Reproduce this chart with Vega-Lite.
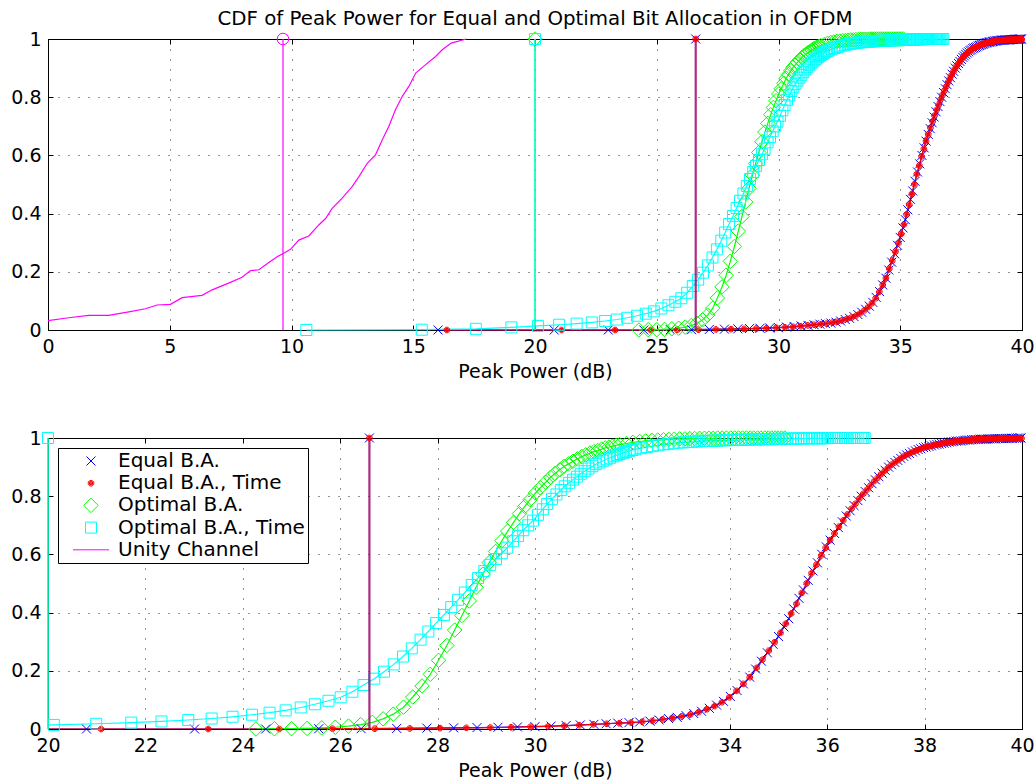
{
"$schema": "https://vega.github.io/schema/vega-lite/v6.json",
"background": "white",
"padding": {"left": 10, "top": 8, "right": 0, "bottom": 0},
"config": {
 "font": "DejaVu Sans",
 "view": {"stroke": "#000000", "strokeWidth": 1},
 "axis": {"labelFont": "DejaVu Sans", "labelFontSize": 19, "labelColor": "#000000", "titleFont": "DejaVu Sans", "titleFontSize": 19, "titleFontWeight": "normal", "titleColor": "#000000", "domainColor": "#000000", "domainWidth": 1, "tickColor": "#000000", "tickSize": -5, "tickWidth": 1, "labelPadding": 12, "labelFlush": false, "labelOverlap": false, "labelBound": false, "grid": true, "gridColor": "#000000", "gridDash": [1, 9], "gridWidth": 1, "gridOpacity": 0.85, "titlePadding": 6},
 "title": {"font": "DejaVu Sans", "fontSize": 19.8, "fontWeight": "normal", "color": "#000000"}
},
"datasets": {
 "stems": [
  {"s":"U","x":9.65},{"s":"E","x":26.6},{"s":"ET","x":26.6},{"s":"O","x":20},{"s":"OT","x":20}
 ],
 "curves": [
  {"s":"E","x":16.02,"y":0},{"s":"E","x":20.79,"y":0},{"s":"E","x":23.01,"y":0},{"s":"E","x":24.47,"y":0},{"s":"E","x":25.56,"y":0.001},{"s":"E","x":26.43,"y":0.001},{"s":"E","x":27.16,"y":0.002},{"s":"E","x":27.78,"y":0.003},{"s":"E","x":28.33,"y":0.004},{"s":"E","x":28.81,"y":0.005},{"s":"E","x":29.24,"y":0.006},{"s":"E","x":29.64,"y":0.007},{"s":"E","x":30.0,"y":0.008},{"s":"E","x":30.33,"y":0.01},{"s":"E","x":30.64,"y":0.012},{"s":"E","x":30.93,"y":0.014},{"s":"E","x":31.21,"y":0.016},{"s":"E","x":31.46,"y":0.018},{"s":"E","x":31.7,"y":0.02},{"s":"E","x":31.93,"y":0.022},{"s":"E","x":32.15,"y":0.024},{"s":"E","x":32.36,"y":0.027},{"s":"E","x":32.55,"y":0.031},{"s":"E","x":32.74,"y":0.036},{"s":"E","x":32.92,"y":0.04},{"s":"E","x":33.1,"y":0.046},{"s":"E","x":33.26,"y":0.053},{"s":"E","x":33.42,"y":0.061},{"s":"E","x":33.58,"y":0.071},{"s":"E","x":33.73,"y":0.082},{"s":"E","x":33.87,"y":0.095},{"s":"E","x":34.01,"y":0.112},{"s":"E","x":34.15,"y":0.132},{"s":"E","x":34.28,"y":0.155},{"s":"E","x":34.41,"y":0.178},{"s":"E","x":34.53,"y":0.206},{"s":"E","x":34.65,"y":0.233},{"s":"E","x":34.77,"y":0.262},{"s":"E","x":34.89,"y":0.291},{"s":"E","x":35.0,"y":0.318},{"s":"E","x":35.11,"y":0.351},{"s":"E","x":35.21,"y":0.379},{"s":"E","x":35.31,"y":0.413},{"s":"E","x":35.42,"y":0.449},{"s":"E","x":35.51,"y":0.478},{"s":"E","x":35.61,"y":0.511},{"s":"E","x":35.71,"y":0.543},{"s":"E","x":35.8,"y":0.571},{"s":"E","x":35.89,"y":0.6},{"s":"E","x":35.98,"y":0.626},{"s":"E","x":36.06,"y":0.649},{"s":"E","x":36.15,"y":0.672},{"s":"E","x":36.23,"y":0.692},{"s":"E","x":36.31,"y":0.712},{"s":"E","x":36.39,"y":0.732},{"s":"E","x":36.47,"y":0.75},{"s":"E","x":36.55,"y":0.768},{"s":"E","x":36.63,"y":0.785},{"s":"E","x":36.7,"y":0.8},{"s":"E","x":36.78,"y":0.816},{"s":"E","x":36.85,"y":0.829},{"s":"E","x":36.92,"y":0.843},{"s":"E","x":36.99,"y":0.856},{"s":"E","x":37.06,"y":0.867},{"s":"E","x":37.13,"y":0.879},{"s":"E","x":37.19,"y":0.889},{"s":"E","x":37.26,"y":0.9},{"s":"E","x":37.32,"y":0.908},{"s":"E","x":37.39,"y":0.916},{"s":"E","x":37.45,"y":0.923},{"s":"E","x":37.51,"y":0.93},{"s":"E","x":37.57,"y":0.937},{"s":"E","x":37.63,"y":0.942},{"s":"E","x":37.69,"y":0.947},{"s":"E","x":37.75,"y":0.952},{"s":"E","x":37.81,"y":0.956},{"s":"E","x":37.87,"y":0.96},{"s":"E","x":37.92,"y":0.963},{"s":"E","x":37.98,"y":0.967},{"s":"E","x":38.03,"y":0.969},{"s":"E","x":38.09,"y":0.971},{"s":"E","x":38.14,"y":0.973},{"s":"E","x":38.2,"y":0.976},{"s":"E","x":38.25,"y":0.978},{"s":"E","x":38.3,"y":0.979},{"s":"E","x":38.35,"y":0.981},{"s":"E","x":38.4,"y":0.982},{"s":"E","x":38.45,"y":0.984},{"s":"E","x":38.5,"y":0.986},{"s":"E","x":38.55,"y":0.987},{"s":"E","x":38.6,"y":0.988},{"s":"E","x":38.65,"y":0.989},{"s":"E","x":38.69,"y":0.99},{"s":"E","x":38.74,"y":0.99},{"s":"E","x":38.79,"y":0.991},{"s":"E","x":38.83,"y":0.992},{"s":"E","x":38.88,"y":0.993},{"s":"E","x":38.92,"y":0.993},{"s":"E","x":38.97,"y":0.994},{"s":"E","x":39.01,"y":0.995},{"s":"E","x":39.05,"y":0.995},{"s":"E","x":39.1,"y":0.995},{"s":"E","x":39.14,"y":0.996},{"s":"E","x":39.18,"y":0.996},{"s":"E","x":39.22,"y":0.996},{"s":"E","x":39.26,"y":0.996},{"s":"E","x":39.3,"y":0.997},{"s":"E","x":39.34,"y":0.997},{"s":"E","x":39.39,"y":0.997},{"s":"E","x":39.43,"y":0.997},{"s":"E","x":39.46,"y":0.997},{"s":"E","x":39.5,"y":0.998},{"s":"E","x":39.54,"y":0.998},{"s":"E","x":39.58,"y":0.998},{"s":"E","x":39.62,"y":0.998},{"s":"E","x":39.66,"y":0.998},{"s":"E","x":39.69,"y":0.999},{"s":"E","x":39.73,"y":0.999},{"s":"E","x":39.77,"y":0.999},{"s":"E","x":39.8,"y":0.999},{"s":"E","x":39.84,"y":0.999},{"s":"E","x":39.88,"y":0.999},{"s":"E","x":39.91,"y":1},{"s":"E","x":39.95,"y":1},{"s":"E","x":39.98,"y":1},
  {"s":"ET","x":16.38,"y":0},{"s":"ET","x":21.09,"y":0},{"s":"ET","x":23.29,"y":0},{"s":"ET","x":24.75,"y":0},{"s":"ET","x":25.84,"y":0.001},{"s":"ET","x":26.71,"y":0.001},{"s":"ET","x":27.43,"y":0.002},{"s":"ET","x":28.05,"y":0.003},{"s":"ET","x":28.59,"y":0.004},{"s":"ET","x":29.08,"y":0.005},{"s":"ET","x":29.51,"y":0.006},{"s":"ET","x":29.91,"y":0.008},{"s":"ET","x":30.27,"y":0.009},{"s":"ET","x":30.6,"y":0.011},{"s":"ET","x":30.91,"y":0.013},{"s":"ET","x":31.2,"y":0.016},{"s":"ET","x":31.47,"y":0.018},{"s":"ET","x":31.73,"y":0.02},{"s":"ET","x":31.97,"y":0.022},{"s":"ET","x":32.2,"y":0.025},{"s":"ET","x":32.41,"y":0.028},{"s":"ET","x":32.62,"y":0.033},{"s":"ET","x":32.82,"y":0.038},{"s":"ET","x":33.01,"y":0.043},{"s":"ET","x":33.19,"y":0.05},{"s":"ET","x":33.36,"y":0.058},{"s":"ET","x":33.53,"y":0.068},{"s":"ET","x":33.69,"y":0.079},{"s":"ET","x":33.84,"y":0.092},{"s":"ET","x":33.99,"y":0.109},{"s":"ET","x":34.14,"y":0.131},{"s":"ET","x":34.28,"y":0.155},{"s":"ET","x":34.41,"y":0.178},{"s":"ET","x":34.55,"y":0.21},{"s":"ET","x":34.67,"y":0.238},{"s":"ET","x":34.8,"y":0.269},{"s":"ET","x":34.92,"y":0.298},{"s":"ET","x":35.04,"y":0.33},{"s":"ET","x":35.15,"y":0.362},{"s":"ET","x":35.26,"y":0.397},{"s":"ET","x":35.37,"y":0.43},{"s":"ET","x":35.48,"y":0.468},{"s":"ET","x":35.58,"y":0.501},{"s":"ET","x":35.68,"y":0.536},{"s":"ET","x":35.78,"y":0.565},{"s":"ET","x":35.88,"y":0.597},{"s":"ET","x":35.97,"y":0.623},{"s":"ET","x":36.06,"y":0.649},{"s":"ET","x":36.15,"y":0.672},{"s":"ET","x":36.24,"y":0.695},{"s":"ET","x":36.33,"y":0.717},{"s":"ET","x":36.41,"y":0.737},{"s":"ET","x":36.5,"y":0.757},{"s":"ET","x":36.58,"y":0.774},{"s":"ET","x":36.66,"y":0.792},{"s":"ET","x":36.74,"y":0.808},{"s":"ET","x":36.82,"y":0.823},{"s":"ET","x":36.89,"y":0.837},{"s":"ET","x":36.97,"y":0.852},{"s":"ET","x":37.04,"y":0.864},{"s":"ET","x":37.11,"y":0.876},{"s":"ET","x":37.18,"y":0.887},{"s":"ET","x":37.25,"y":0.898},{"s":"ET","x":37.32,"y":0.908},{"s":"ET","x":37.39,"y":0.916},{"s":"ET","x":37.46,"y":0.924},{"s":"ET","x":37.52,"y":0.931},{"s":"ET","x":37.59,"y":0.939},{"s":"ET","x":37.65,"y":0.944},{"s":"ET","x":37.71,"y":0.948},{"s":"ET","x":37.78,"y":0.954},{"s":"ET","x":37.84,"y":0.958},{"s":"ET","x":37.9,"y":0.962},{"s":"ET","x":37.96,"y":0.966},{"s":"ET","x":38.02,"y":0.969},{"s":"ET","x":38.07,"y":0.97},{"s":"ET","x":38.13,"y":0.973},{"s":"ET","x":38.19,"y":0.975},{"s":"ET","x":38.24,"y":0.977},{"s":"ET","x":38.3,"y":0.979},{"s":"ET","x":38.35,"y":0.981},{"s":"ET","x":38.41,"y":0.983},{"s":"ET","x":38.46,"y":0.984},{"s":"ET","x":38.51,"y":0.986},{"s":"ET","x":38.56,"y":0.987},{"s":"ET","x":38.61,"y":0.988},{"s":"ET","x":38.66,"y":0.989},{"s":"ET","x":38.72,"y":0.99},{"s":"ET","x":38.76,"y":0.99},{"s":"ET","x":38.81,"y":0.991},{"s":"ET","x":38.86,"y":0.992},{"s":"ET","x":38.91,"y":0.993},{"s":"ET","x":38.96,"y":0.994},{"s":"ET","x":39.0,"y":0.995},{"s":"ET","x":39.05,"y":0.995},{"s":"ET","x":39.09,"y":0.995},{"s":"ET","x":39.14,"y":0.996},{"s":"ET","x":39.18,"y":0.996},{"s":"ET","x":39.23,"y":0.996},{"s":"ET","x":39.27,"y":0.996},{"s":"ET","x":39.32,"y":0.997},{"s":"ET","x":39.36,"y":0.997},{"s":"ET","x":39.4,"y":0.997},{"s":"ET","x":39.44,"y":0.997},{"s":"ET","x":39.49,"y":0.997},{"s":"ET","x":39.53,"y":0.998},{"s":"ET","x":39.57,"y":0.998},{"s":"ET","x":39.61,"y":0.998},{"s":"ET","x":39.65,"y":0.998},{"s":"ET","x":39.69,"y":0.998},{"s":"ET","x":39.73,"y":0.999},{"s":"ET","x":39.77,"y":0.999},{"s":"ET","x":39.81,"y":0.999},{"s":"ET","x":39.84,"y":0.999},{"s":"ET","x":39.88,"y":0.999},{"s":"ET","x":39.92,"y":0.999},{"s":"ET","x":39.96,"y":0.999},{"s":"ET","x":39.99,"y":0.999},
  {"s":"O","x":24.27,"y":0},{"s":"O","x":24.65,"y":0.001},{"s":"O","x":25.0,"y":0.001},{"s":"O","x":25.32,"y":0.002},{"s":"O","x":25.62,"y":0.004},{"s":"O","x":25.9,"y":0.006},{"s":"O","x":26.17,"y":0.01},{"s":"O","x":26.42,"y":0.015},{"s":"O","x":26.66,"y":0.023},{"s":"O","x":26.88,"y":0.035},{"s":"O","x":27.09,"y":0.051},{"s":"O","x":27.3,"y":0.075},{"s":"O","x":27.49,"y":0.11},{"s":"O","x":27.68,"y":0.148},{"s":"O","x":27.85,"y":0.188},{"s":"O","x":28.02,"y":0.236},{"s":"O","x":28.19,"y":0.287},{"s":"O","x":28.35,"y":0.34},{"s":"O","x":28.5,"y":0.39},{"s":"O","x":28.65,"y":0.44},{"s":"O","x":28.79,"y":0.487},{"s":"O","x":28.93,"y":0.532},{"s":"O","x":29.06,"y":0.572},{"s":"O","x":29.19,"y":0.61},{"s":"O","x":29.32,"y":0.647},{"s":"O","x":29.44,"y":0.68},{"s":"O","x":29.56,"y":0.71},{"s":"O","x":29.68,"y":0.74},{"s":"O","x":29.79,"y":0.765},{"s":"O","x":29.9,"y":0.788},{"s":"O","x":30.01,"y":0.811},{"s":"O","x":30.11,"y":0.829},{"s":"O","x":30.22,"y":0.848},{"s":"O","x":30.32,"y":0.865},{"s":"O","x":30.41,"y":0.878},{"s":"O","x":30.51,"y":0.891},{"s":"O","x":30.6,"y":0.903},{"s":"O","x":30.69,"y":0.911},{"s":"O","x":30.78,"y":0.92},{"s":"O","x":30.87,"y":0.928},{"s":"O","x":30.96,"y":0.936},{"s":"O","x":31.04,"y":0.942},{"s":"O","x":31.13,"y":0.948},{"s":"O","x":31.21,"y":0.953},{"s":"O","x":31.29,"y":0.957},{"s":"O","x":31.37,"y":0.962},{"s":"O","x":31.44,"y":0.966},{"s":"O","x":31.52,"y":0.969},{"s":"O","x":31.59,"y":0.972},{"s":"O","x":31.67,"y":0.975},{"s":"O","x":31.74,"y":0.977},{"s":"O","x":31.88,"y":0.981},{"s":"O","x":32.01,"y":0.985},{"s":"O","x":32.15,"y":0.988},{"s":"O","x":32.27,"y":0.99},{"s":"O","x":32.4,"y":0.992},{"s":"O","x":32.52,"y":0.993},{"s":"O","x":32.64,"y":0.994},{"s":"O","x":32.75,"y":0.995},{"s":"O","x":32.86,"y":0.996},{"s":"O","x":32.97,"y":0.997},{"s":"O","x":33.08,"y":0.997},{"s":"O","x":33.18,"y":0.998},{"s":"O","x":33.28,"y":0.998},{"s":"O","x":33.38,"y":0.999},{"s":"O","x":33.48,"y":0.999},{"s":"O","x":33.57,"y":0.999},{"s":"O","x":33.66,"y":0.999},{"s":"O","x":33.75,"y":1},{"s":"O","x":33.84,"y":1},{"s":"O","x":33.93,"y":1},{"s":"O","x":34.02,"y":1},{"s":"O","x":34.1,"y":1},{"s":"O","x":34.18,"y":1},{"s":"O","x":34.26,"y":1},{"s":"O","x":34.34,"y":1},{"s":"O","x":34.42,"y":1},{"s":"O","x":34.49,"y":1},{"s":"O","x":34.57,"y":1},{"s":"O","x":34.64,"y":1},{"s":"O","x":34.72,"y":1},{"s":"O","x":34.79,"y":1},{"s":"O","x":34.86,"y":1},{"s":"O","x":34.93,"y":1},{"s":"O","x":34.99,"y":1},{"s":"O","x":35.06,"y":1},{"s":"O","x":35.13,"y":1},
  {"s":"OT","x":10.61,"y":0},{"s":"OT","x":15.35,"y":0.001},{"s":"OT","x":17.57,"y":0.004},{"s":"OT","x":19.03,"y":0.009},{"s":"OT","x":20.12,"y":0.014},{"s":"OT","x":20.99,"y":0.018},{"s":"OT","x":21.71,"y":0.022},{"s":"OT","x":22.33,"y":0.026},{"s":"OT","x":22.88,"y":0.031},{"s":"OT","x":23.36,"y":0.036},{"s":"OT","x":23.79,"y":0.042},{"s":"OT","x":24.19,"y":0.049},{"s":"OT","x":24.55,"y":0.056},{"s":"OT","x":24.88,"y":0.064},{"s":"OT","x":25.19,"y":0.074},{"s":"OT","x":25.48,"y":0.085},{"s":"OT","x":25.76,"y":0.097},{"s":"OT","x":26.01,"y":0.109},{"s":"OT","x":26.25,"y":0.128},{"s":"OT","x":26.48,"y":0.151},{"s":"OT","x":26.7,"y":0.173},{"s":"OT","x":26.9,"y":0.197},{"s":"OT","x":27.1,"y":0.222},{"s":"OT","x":27.29,"y":0.249},{"s":"OT","x":27.47,"y":0.277},{"s":"OT","x":27.65,"y":0.307},{"s":"OT","x":27.81,"y":0.335},{"s":"OT","x":27.97,"y":0.364},{"s":"OT","x":28.13,"y":0.392},{"s":"OT","x":28.28,"y":0.419},{"s":"OT","x":28.42,"y":0.444},{"s":"OT","x":28.56,"y":0.469},{"s":"OT","x":28.7,"y":0.495},{"s":"OT","x":28.83,"y":0.519},{"s":"OT","x":28.96,"y":0.543},{"s":"OT","x":29.08,"y":0.564},{"s":"OT","x":29.2,"y":0.584},{"s":"OT","x":29.32,"y":0.604},{"s":"OT","x":29.43,"y":0.623},{"s":"OT","x":29.55,"y":0.645},{"s":"OT","x":29.65,"y":0.663},{"s":"OT","x":29.76,"y":0.683},{"s":"OT","x":29.86,"y":0.7},{"s":"OT","x":29.96,"y":0.716},{"s":"OT","x":30.06,"y":0.736},{"s":"OT","x":30.16,"y":0.755},{"s":"OT","x":30.25,"y":0.773},{"s":"OT","x":30.35,"y":0.791},{"s":"OT","x":30.44,"y":0.806},{"s":"OT","x":30.53,"y":0.821},{"s":"OT","x":30.61,"y":0.834},{"s":"OT","x":30.7,"y":0.846},{"s":"OT","x":30.78,"y":0.857},{"s":"OT","x":30.86,"y":0.867},{"s":"OT","x":30.94,"y":0.877},{"s":"OT","x":31.02,"y":0.886},{"s":"OT","x":31.1,"y":0.895},{"s":"OT","x":31.18,"y":0.903},{"s":"OT","x":31.25,"y":0.91},{"s":"OT","x":31.32,"y":0.916},{"s":"OT","x":31.4,"y":0.922},{"s":"OT","x":31.47,"y":0.927},{"s":"OT","x":31.54,"y":0.932},{"s":"OT","x":31.61,"y":0.937},{"s":"OT","x":31.68,"y":0.941},{"s":"OT","x":31.74,"y":0.945},{"s":"OT","x":31.81,"y":0.949},{"s":"OT","x":31.87,"y":0.952},{"s":"OT","x":31.94,"y":0.956},{"s":"OT","x":32.0,"y":0.959},{"s":"OT","x":32.06,"y":0.961},{"s":"OT","x":32.18,"y":0.965},{"s":"OT","x":32.3,"y":0.969},{"s":"OT","x":32.42,"y":0.972},{"s":"OT","x":32.53,"y":0.975},{"s":"OT","x":32.64,"y":0.978},{"s":"OT","x":32.74,"y":0.98},{"s":"OT","x":32.85,"y":0.982},{"s":"OT","x":32.95,"y":0.984},{"s":"OT","x":33.05,"y":0.985},{"s":"OT","x":33.15,"y":0.986},{"s":"OT","x":33.24,"y":0.987},{"s":"OT","x":33.33,"y":0.988},{"s":"OT","x":33.42,"y":0.989},{"s":"OT","x":33.51,"y":0.99},{"s":"OT","x":33.6,"y":0.99},{"s":"OT","x":33.69,"y":0.991},{"s":"OT","x":33.77,"y":0.991},{"s":"OT","x":33.85,"y":0.992},{"s":"OT","x":33.93,"y":0.992},{"s":"OT","x":34.01,"y":0.993},{"s":"OT","x":34.09,"y":0.993},{"s":"OT","x":34.17,"y":0.993},{"s":"OT","x":34.24,"y":0.994},{"s":"OT","x":34.32,"y":0.994},{"s":"OT","x":34.39,"y":0.994},{"s":"OT","x":34.46,"y":0.995},{"s":"OT","x":34.53,"y":0.995},{"s":"OT","x":34.6,"y":0.995},{"s":"OT","x":34.67,"y":0.996},{"s":"OT","x":34.74,"y":0.996},{"s":"OT","x":34.8,"y":0.996},{"s":"OT","x":34.87,"y":0.996},{"s":"OT","x":34.93,"y":0.997},{"s":"OT","x":34.99,"y":0.997},{"s":"OT","x":35.06,"y":0.997},{"s":"OT","x":35.12,"y":0.997},{"s":"OT","x":35.18,"y":0.998},{"s":"OT","x":35.24,"y":0.998},{"s":"OT","x":35.3,"y":0.998},{"s":"OT","x":35.36,"y":0.998},{"s":"OT","x":35.41,"y":0.998},{"s":"OT","x":35.47,"y":0.998},{"s":"OT","x":35.52,"y":0.999},{"s":"OT","x":35.58,"y":0.999},{"s":"OT","x":35.63,"y":0.999},{"s":"OT","x":35.69,"y":0.999},{"s":"OT","x":35.74,"y":0.999},{"s":"OT","x":35.79,"y":0.999},{"s":"OT","x":35.85,"y":0.999},{"s":"OT","x":35.9,"y":0.999},{"s":"OT","x":35.95,"y":0.999},{"s":"OT","x":36.0,"y":1},{"s":"OT","x":36.05,"y":1},{"s":"OT","x":36.1,"y":1},{"s":"OT","x":36.14,"y":1},{"s":"OT","x":36.19,"y":1},{"s":"OT","x":36.24,"y":1},{"s":"OT","x":36.29,"y":1},{"s":"OT","x":36.33,"y":1},{"s":"OT","x":36.38,"y":1},{"s":"OT","x":36.42,"y":1},{"s":"OT","x":36.47,"y":1},{"s":"OT","x":36.51,"y":1},{"s":"OT","x":36.56,"y":1},{"s":"OT","x":36.6,"y":1},{"s":"OT","x":36.64,"y":1},{"s":"OT","x":36.69,"y":1},{"s":"OT","x":36.73,"y":1},{"s":"OT","x":36.77,"y":1},
  {"s":"U","x":0,"y":0.032},{"s":"U","x":0.85,"y":0.042},{"s":"U","x":1.67,"y":0.05},{"s":"U","x":2.49,"y":0.05},{"s":"U","x":3.32,"y":0.062},{"s":"U","x":4.0,"y":0.073},{"s":"U","x":4.48,"y":0.086},{"s":"U","x":5.03,"y":0.088},{"s":"U","x":5.51,"y":0.111},{"s":"U","x":6.33,"y":0.119},{"s":"U","x":6.74,"y":0.138},{"s":"U","x":7.42,"y":0.161},{"s":"U","x":7.97,"y":0.181},{"s":"U","x":8.32,"y":0.204},{"s":"U","x":8.66,"y":0.207},{"s":"U","x":9.07,"y":0.232},{"s":"U","x":9.41,"y":0.252},{"s":"U","x":9.68,"y":0.264},{"s":"U","x":9.96,"y":0.277},{"s":"U","x":10.3,"y":0.309},{"s":"U","x":10.71,"y":0.323},{"s":"U","x":11.12,"y":0.361},{"s":"U","x":11.4,"y":0.383},{"s":"U","x":11.67,"y":0.418},{"s":"U","x":12.08,"y":0.453},{"s":"U","x":12.49,"y":0.493},{"s":"U","x":12.77,"y":0.527},{"s":"U","x":13.11,"y":0.573},{"s":"U","x":13.45,"y":0.602},{"s":"U","x":13.73,"y":0.654},{"s":"U","x":14.0,"y":0.7},{"s":"U","x":14.27,"y":0.757},{"s":"U","x":14.55,"y":0.803},{"s":"U","x":14.82,"y":0.837},{"s":"U","x":15.1,"y":0.883},{"s":"U","x":15.51,"y":0.912},{"s":"U","x":15.92,"y":0.94},{"s":"U","x":16.19,"y":0.963},{"s":"U","x":16.56,"y":0.986},{"s":"U","x":17.18,"y":1}
 ]
},
"bounds": "flush",
"spacing": 108,
"resolve": {"scale": {"color": "independent", "shape": "independent"}},
"vconcat": [
 {
  "width": 974, "height": 291,
  "title": {"text": "CDF of Peak Power for Equal and Optimal Bit Allocation in OFDM", "frame": "group", "baseline": "alphabetic", "offset": -15},
  "resolve": {"axis": {"x": "independent", "y": "independent"}},
  "layer": [
   {"layer": [
   {"data": {"name": "curves"}, "mark": {"type": "line", "strokeWidth": 1.2, "opacity": 1},
    "encoding": {
     "x": {"field": "x", "type": "quantitative", "scale": {"domain": [0, 40], "nice": false, "zero": false}, "axis": {"values": [0,5,10,15,20,25,30,35,40], "title": "Peak Power (dB)"}},
     "y": {"field": "y", "type": "quantitative", "scale": {"domain": [0, 1], "nice": false}, "axis": {"values": [0,0.2,0.4,0.6,0.8,1], "format": "~g", "title": null}},
     "color": {"field": "s", "type": "nominal", "scale": {"domain": ["E","ET","O","OT","U"], "range": ["#0000ff","#ff0000","#00ff00","#00ffff","#ff00ff"]}, "legend": null}
    }},
   {"data": {"name": "curves"}, "transform": [{"filter": "datum.s != 'U'"}], "mark": {"type": "point", "filled": false, "size": 100, "strokeWidth": 1, "opacity": 1},
    "encoding": {
     "x": {"field": "x", "type": "quantitative"},
     "y": {"field": "y", "type": "quantitative"},
     "color": {"field": "s", "type": "nominal", "legend": null},
     "shape": {"field": "s", "type": "nominal", "scale": {"domain": ["E","ET","O","OT","U"], "range": ["M-0.9,-0.9L0.9,0.9M-0.9,0.9L0.9,-0.9", "M0.55,0.23L0.23,0.55L-0.23,0.55L-0.55,0.23L-0.55,-0.23L-0.23,-0.55L0.23,-0.55L0.55,-0.23ZM-0.3,-0.3H0.3V0.3H-0.3ZM-0.3,0H0.3M0,-0.3V0.3", "M0,-1.45L1.45,0L0,1.45L-1.45,0Z", "M-1.1,-1.1H1.1V1.1H-1.1Z", "M-3.6,0H3.6"]}, "legend": null}
    }},
   {"data": {"name": "stems"}, "mark": {"type": "rule", "strokeWidth": 2, "opacity": 0.6},
    "encoding": {
     "x": {"field": "x", "type": "quantitative"},
     "y": {"datum": 0, "type": "quantitative"},
     "y2": {"datum": 1},
     "color": {"field": "s", "type": "nominal", "legend": null}
    }},
   {"data": {"name": "stems"}, "transform": [{"filter": "datum.s != 'U'"}], "mark": {"type": "point", "filled": false, "size": 100, "strokeWidth": 1, "opacity": 1},
    "encoding": {
     "x": {"field": "x", "type": "quantitative"},
     "y": {"datum": 1, "type": "quantitative"},
     "color": {"field": "s", "type": "nominal", "legend": null},
     "shape": {"field": "s", "type": "nominal", "legend": null}
    }},
   {"data": {"name": "stems"}, "transform": [{"filter": "datum.s == 'U'"}], "mark": {"type": "point", "shape": "circle", "filled": false, "size": 133, "strokeWidth": 1, "opacity": 1, "color": "#ff00ff"},
    "encoding": {
     "x": {"field": "x", "type": "quantitative"},
     "y": {"datum": 1, "type": "quantitative"}
    }}
   ]},
   {"data": {"values": [{"a": 1}]}, "mark": {"type": "point", "opacity": 0},
    "encoding": {
     "x": {"datum": 20, "type": "quantitative", "axis": {"orient": "top", "values": [0,5,10,15,20,25,30,35,40], "labels": false, "title": null, "grid": false, "domain": false}},
     "y": {"datum": 0.5, "type": "quantitative", "axis": {"orient": "right", "values": [0,0.2,0.4,0.6,0.8,1], "labels": false, "title": null, "grid": false, "domain": false}}
    }}
  ]
 },
 {
  "width": 974, "height": 291,
  "resolve": {"axis": {"x": "independent", "y": "independent"}},
  "layer": [
   {"layer": [
   {"data": {"name": "curves"}, "mark": {"type": "line", "strokeWidth": 1.2, "opacity": 1, "clip": true},
    "encoding": {
     "x": {"field": "x", "type": "quantitative", "scale": {"domain": [20, 40], "nice": false, "zero": false}, "axis": {"values": [20,22,24,26,28,30,32,34,36,38,40], "title": "Peak Power (dB)"}},
     "y": {"field": "y", "type": "quantitative", "scale": {"domain": [0, 1], "nice": false}, "axis": {"values": [0,0.2,0.4,0.6,0.8,1], "format": "~g", "title": null}},
     "color": {"field": "s", "type": "nominal", "scale": {"domain": ["E","ET","O","OT","U"], "range": ["#0000ff","#ff0000","#00ff00","#00ffff","#ff00ff"]},
      "legend": {"title": null, "orient": "none", "legendX": 10, "legendY": 10, "labelExpr": "datum.label == 'E' ? 'Equal B.A.' : datum.label == 'ET' ? 'Equal B.A., Time' : datum.label == 'O' ? 'Optimal B.A.' : datum.label == 'OT' ? 'Optimal B.A., Time' : 'Unity Channel'", "strokeColor": "#000000", "fillColor": "#ffffff", "padding": 3, "labelFont": "DejaVu Sans", "labelFontSize": 20, "labelColor": "#000000", "labelLimit": 400, "symbolOffset": 20, "labelOffset": 17, "rowPadding": 2.2, "symbolSize": 100, "symbolStrokeWidth": 1, "symbolOpacity": 1}}
    }},
   {"data": {"name": "curves"}, "transform": [{"filter": "datum.s != 'U' && datum.x >= 19.9"}], "mark": {"type": "point", "filled": false, "size": 100, "strokeWidth": 1, "opacity": 1},
    "encoding": {
     "x": {"field": "x", "type": "quantitative"},
     "y": {"field": "y", "type": "quantitative"},
     "color": {"field": "s", "type": "nominal",
      "legend": {"title": null, "orient": "none", "legendX": 10, "legendY": 10, "labelExpr": "datum.label == 'E' ? 'Equal B.A.' : datum.label == 'ET' ? 'Equal B.A., Time' : datum.label == 'O' ? 'Optimal B.A.' : datum.label == 'OT' ? 'Optimal B.A., Time' : 'Unity Channel'", "strokeColor": "#000000", "fillColor": "#ffffff", "padding": 3, "labelFont": "DejaVu Sans", "labelFontSize": 20, "labelColor": "#000000", "labelLimit": 400, "symbolOffset": 20, "labelOffset": 17, "rowPadding": 2.2, "symbolSize": 100, "symbolStrokeWidth": 1, "symbolOpacity": 1}},
     "shape": {"field": "s", "type": "nominal", "scale": {"domain": ["E","ET","O","OT","U"], "range": ["M-0.9,-0.9L0.9,0.9M-0.9,0.9L0.9,-0.9", "M0.55,0.23L0.23,0.55L-0.23,0.55L-0.55,0.23L-0.55,-0.23L-0.23,-0.55L0.23,-0.55L0.55,-0.23ZM-0.3,-0.3H0.3V0.3H-0.3ZM-0.3,0H0.3M0,-0.3V0.3", "M0,-1.45L1.45,0L0,1.45L-1.45,0Z", "M-1.1,-1.1H1.1V1.1H-1.1Z", "M-3.6,0H3.6"]},
      "legend": {"title": null, "orient": "none", "legendX": 10, "legendY": 10, "labelExpr": "datum.label == 'E' ? 'Equal B.A.' : datum.label == 'ET' ? 'Equal B.A., Time' : datum.label == 'O' ? 'Optimal B.A.' : datum.label == 'OT' ? 'Optimal B.A., Time' : 'Unity Channel'", "strokeColor": "#000000", "fillColor": "#ffffff", "padding": 3, "labelFont": "DejaVu Sans", "labelFontSize": 20, "labelColor": "#000000", "labelLimit": 400, "symbolOffset": 20, "labelOffset": 17, "rowPadding": 2.2, "symbolSize": 100, "symbolStrokeWidth": 1, "symbolOpacity": 1}}
    }},
   {"data": {"name": "stems"}, "transform": [{"filter": "datum.x >= 20"}], "mark": {"type": "rule", "strokeWidth": 2, "opacity": 0.6},
    "encoding": {
     "x": {"field": "x", "type": "quantitative"},
     "y": {"datum": 0, "type": "quantitative"},
     "y2": {"datum": 1},
     "color": {"field": "s", "type": "nominal"}
    }},
   {"data": {"name": "stems"}, "transform": [{"filter": "datum.x >= 20 && datum.s != 'U' && datum.s != 'O'"}], "mark": {"type": "point", "filled": false, "size": 100, "strokeWidth": 1, "opacity": 1},
    "encoding": {
     "x": {"field": "x", "type": "quantitative"},
     "y": {"datum": 1, "type": "quantitative"},
     "color": {"field": "s", "type": "nominal"},
     "shape": {"field": "s", "type": "nominal"}
    }}
   ]},
   {"data": {"values": [{"a": 1}]}, "mark": {"type": "point", "opacity": 0},
    "encoding": {
     "x": {"datum": 30, "type": "quantitative", "axis": {"orient": "top", "values": [20,22,24,26,28,30,32,34,36,38,40], "labels": false, "title": null, "grid": false, "domain": false}},
     "y": {"datum": 0.5, "type": "quantitative", "axis": {"orient": "right", "values": [0,0.2,0.4,0.6,0.8,1], "labels": false, "title": null, "grid": false, "domain": false}}
    }}
  ]
 }
]
}
